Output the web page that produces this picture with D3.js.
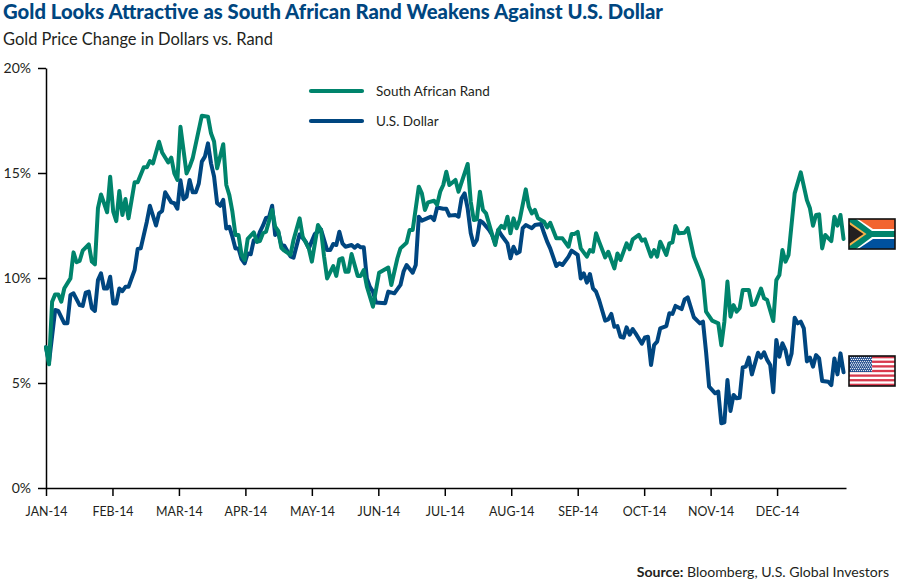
<!DOCTYPE html>
<html><head><meta charset="utf-8">
<script src="https://cdnjs.cloudflare.com/ajax/libs/d3/7.8.5/d3.min.js"></script>
<style>html,body{margin:0;padding:0;background:#fff}svg{display:block}text{font-family:Lato,"Open Sans",sans-serif}</style>
</head><body><div id="chart"></div>
<script>
const titleText = "Gold Looks Attractive as South African Rand Weakens Against U.S. Dollar";
const subtitleText = "Gold Price Change in Dollars vs. Rand";
const monthLabels = ["JAN-14","FEB-14","MAR-14","APR-14","MAY-14","JUN-14","JUL-14","AUG-14","SEP-14","OCT-14","NOV-14","DEC-14"];
const percentTicks = [0,5,10,15,20];
const seriesNames = ["South African Rand","U.S. Dollar"];
const tradingDaysPerMonth = 21.75;

const randDays = [0,1,2,3,4,5,6,8,9,10,11,12,14,15,16,17,18,20,21,22,23,24,25,26,27,29,30,32,33,34,35,37,38,40,41,42,43,44,46,47,48,51,53,54,55,56,58,59,60,61,62,63,64,65,66,68,69,70,71,72,74,75,76,77,78,80,81,83,84,86,87,89,90,91,92,94,95,96,97,98,99,100,102,103,104,105,107,109,112,113,115,116,118,119,120,122,123,124,125,127,128,129,130,131,132,134,135,138,139,140,141,142,143,144,147,148,149,150,151,152,153,154,155,157,158,159,160,161,163,164,165,167,169,171,172,173,174,175,177,178,179,180,181,183,184,186,187,188,190,191,192,194,195,196,198,199,200,201,203,204,205,206,207,209,210,212,214,215,216,218,220,221,222,223,224,225,226,227,228,230,231,232,234,235,236,238,239,240,241,242,243,245,247,249,250,251,252,253,254,255,256,257,258,259,260,261];
const randValues = [6.7,5.89,8.87,9.22,9.22,8.87,9.51,9.98,11.22,10.75,10.81,11.3,11.6,10.78,10.65,13.32,13.98,13.13,14.82,13.16,12.71,14.14,13.0,13.76,12.84,14.56,14.56,15.27,15.27,15.57,15.46,16.49,15.98,15.5,15.73,14.98,14.67,17.2,14.98,15.3,15.7,17.73,17.68,16.89,16.5,15.22,16.37,14.43,13.95,13.16,12.05,12.05,11.1,10.86,11.86,12.17,11.73,11.76,12.13,12.2,13.24,12.44,12.24,11.44,11.3,11.1,11.81,12.84,11.97,11.41,10.78,12.52,12.29,11.02,9.98,10.57,10.1,10.89,10.94,10.3,10.3,11.14,10.1,10.1,10.38,9.6,8.63,10.25,10.5,9.67,10.94,11.41,11.68,12.29,12.29,14.35,14.03,13.24,13.6,13.68,13.48,14.11,14.43,15.06,14.43,14.67,14.11,15.43,13.63,12.76,12.8,14.11,13.24,13.08,11.57,12.29,12.48,12.37,12.92,12.13,12.84,12.37,12.76,14.22,13.4,13.08,13.24,12.84,12.68,12.41,12.63,11.89,11.89,11.49,12.1,12.1,12.2,11.41,11.02,11.33,11.25,12.13,11.73,10.98,11.25,10.46,11.17,10.86,11.65,11.37,11.84,12.05,11.78,11.84,11.02,11.33,11.02,11.73,11.1,11.65,11.7,12.48,12.13,12.16,12.37,11.02,10.3,9.9,8.4,7.97,7.84,6.8,7.92,9.83,8.16,8.71,8.4,8.56,9.43,9.43,8.71,8.75,9.5,9.03,8.95,7.95,9.9,10.14,11.33,10.78,11.1,14.03,15.03,13.71,13.32,12.49,13.0,13.03,11.41,12.05,11.9,11.76,12.92,12.49,13.0,11.86];

const usdDays = [0,1,3,4,6,7,8,9,11,12,13,14,15,16,17,18,19,20,21,22,23,24,25,26,27,29,30,31,33,34,36,37,38,39,41,42,43,44,45,46,47,48,49,50,51,52,53,54,55,56,57,58,59,60,61,62,63,64,65,66,67,68,69,70,71,72,73,74,75,76,77,78,80,81,83,85,86,88,90,92,93,94,95,96,97,98,100,101,102,103,104,105,106,107,108,111,112,114,116,117,118,120,121,122,123,126,127,128,130,131,132,134,135,136,137,138,139,140,141,142,143,145,146,147,148,149,151,152,153,154,155,156,157,159,160,162,163,164,165,167,168,169,171,172,174,175,176,177,178,179,180,181,183,184,185,186,187,188,189,190,191,192,193,195,196,197,198,199,200,201,203,204,205,206,208,209,210,212,214,215,216,217,219,220,221,222,223,224,225,226,227,228,229,230,231,233,234,235,236,237,238,239,240,241,242,243,244,245,246,247,248,249,250,251,252,253,254,256,257,258,259,260,261];
const usdValues = [6.7,6.0,8.48,8.43,7.84,7.84,9.19,9.27,8.71,8.67,9.3,9.35,8.56,8.43,9.9,10.22,9.5,9.5,10.06,8.79,8.79,9.5,9.37,9.58,9.58,10.38,11.38,11.41,12.68,13.44,12.5,13.08,13.19,14.08,13.6,13.56,13.3,14.65,13.75,13.87,14.67,14.08,14.08,14.5,15.54,15.78,16.41,15.46,14.83,13.56,13.44,13.72,12.36,12.44,11.97,11.41,11.41,10.9,10.7,11.17,11.13,11.8,11.73,12.2,12.49,12.86,12.9,13.44,12.05,12.2,11.57,11.54,11.03,10.97,12.08,11.73,11.41,12.1,12.31,11.33,11.33,11.62,11.57,12.2,11.65,11.49,11.57,11.44,11.57,11.46,11.46,9.98,9.58,9.35,8.83,8.8,9.35,9.27,9.67,10.3,10.62,10.25,10.62,12.92,12.73,12.92,12.76,13.36,13.3,13.3,12.97,13.0,12.92,13.8,14.03,13.3,12.13,11.57,11.81,12.73,12.63,12.29,12.05,11.65,12.29,12.05,11.65,10.94,11.49,11.17,11.25,12.37,12.52,12.37,12.52,12.57,12.13,11.73,11.41,10.57,10.7,10.62,11.02,11.3,11.1,9.98,10.22,9.78,10.19,9.51,9.35,8.95,7.97,8.03,8.29,7.68,7.71,7.2,7.16,7.65,7.3,7.57,7.35,6.87,7.17,7.2,5.86,6.81,6.97,7.6,7.71,8.32,8.29,8.67,8.52,8.98,9.08,8.13,7.84,7.92,6.49,4.83,4.51,4.59,3.08,3.13,5.14,3.67,4.43,4.27,4.3,5.74,5.78,6.21,5.41,6.44,6.21,6.46,6.1,5.86,4.56,7.05,6.25,6.89,6.57,5.89,6.41,8.11,7.84,7.92,7.6,6.03,6.21,5.78,6.33,6.17,5.1,5.06,4.9,6.17,5.41,6.41,5.51];

const randColor = "#00846c", usdColor = "#004680", ink = "#231f20";
const width = 900, height = 585;
const svg = d3.select("#chart").append("svg").attr("width", width).attr("height", height);

const x = d3.scaleLinear().domain([0, 261.8]).range([46, 846]);
const y = d3.scaleLinear().domain([0, 20]).range([488, 68]);

svg.append("text").attr("x", 3).attr("y", 19).attr("fill", usdColor)
  .attr("font-size", 20.5).attr("font-weight", 900).attr("textLength", 660).attr("lengthAdjust", "spacingAndGlyphs").text(titleText);
svg.append("text").attr("x", 3).attr("y", 45).attr("fill", ink)
  .attr("font-size", 17).attr("textLength", 270).attr("lengthAdjust", "spacingAndGlyphs").text(subtitleText);

const yAxis = svg.append("g").attr("transform", "translate(46,0)")
  .call(d3.axisLeft(y).tickValues(percentTicks).tickFormat(d => d + "%").tickSize(8).tickSizeOuter(0));
const xAxis = svg.append("g").attr("transform", "translate(0,488)")
  .call(d3.axisBottom(x).tickValues(monthLabels.map((_, i) => i * tradingDaysPerMonth)).tickFormat((d, i) => monthLabels[i]).tickSize(8).tickSizeOuter(0));
[yAxis, xAxis].forEach(g => {
  g.selectAll("path,line").attr("stroke", "#000").attr("stroke-width", 1.5);
  g.selectAll("text").attr("fill", ink).style("font-family", "Lato,sans-serif");
});
yAxis.selectAll("text").attr("x", -15).attr("font-size", 14);
xAxis.selectAll("text").attr("y", 19.5).attr("font-size", 12.4);

const line = d3.line().x(d => x(d[0])).y(d => y(d[1]));
const pairs = (a, b) => a.map((d, i) => [d, b[i]]);
const drawLine = (days, values, color) => svg.append("path").datum(pairs(days, values))
  .attr("fill", "none").attr("stroke", color).attr("stroke-width", 4).attr("stroke-linejoin", "round").attr("stroke-linecap", "round").attr("d", line);
drawLine(usdDays, usdValues, usdColor);
drawLine(randDays, randValues, randColor);

[[91, randColor], [121, usdColor]].forEach(([ly, c], i) => {
  svg.append("line").attr("x1", 311).attr("x2", 362).attr("y1", ly).attr("y2", ly)
    .attr("stroke", c).attr("stroke-width", 4.2).attr("stroke-linecap", "round");
  svg.append("text").attr("x", 376).attr("y", ly + 4.5).attr("fill", ink).attr("font-size", 13.5).text(seriesNames[i]);
});

const source = svg.append("text").attr("x", 889).attr("y", 577).attr("text-anchor", "end").attr("fill", ink).attr("font-size", 14.1);
source.append("tspan").attr("font-weight", 700).text("Source:");
source.append("tspan").text(" Bloomberg, U.S. Global Investors");

// Flags
const sa = svg.append("g").attr("transform", "translate(849,219)");
sa.append("rect").attr("width", 46).attr("height", 30).attr("fill", "#fff");
sa.append("path").attr("d", "M0,0H46V10H24L9,0Z").attr("fill", "#f26430");
sa.append("path").attr("d", "M0,30H46V20H24L9,30Z").attr("fill", "#00519e");
sa.append("path").attr("d", "M0,0H7L23,12H46V18H23L7,30H0Z").attr("fill", "#00846c");
sa.append("path").attr("d", "M0,2.5L17.5,15L0,27.5Z").attr("fill", "#f7b24a");
sa.append("path").attr("d", "M0,5L14.5,15L0,25Z").attr("fill", "#231f20");
sa.append("rect").attr("width", 46).attr("height", 30).attr("fill", "none").attr("stroke", "#111").attr("stroke-width", 1.6);

const us = svg.append("g").attr("transform", "translate(849,356)");
us.append("rect").attr("width", 46).attr("height", 30).attr("fill", "#fff");
d3.range(7).forEach(i => us.append("rect").attr("y", i * 30 / 6.5).attr("width", 46).attr("height", 30 / 13).attr("fill", "#d8394d"));
us.append("rect").attr("width", 23).attr("height", 16).attr("fill", "#1f4a8c");
d3.range(8).forEach(r => d3.range(11).forEach(c => us.append("circle").attr("cx", 1.6 + c * 2 + (r % 2)).attr("cy", 1.6 + r * 1.85).attr("r", 0.65).attr("fill", "#fff")));
us.append("rect").attr("width", 46).attr("height", 30).attr("fill", "none").attr("stroke", "#111").attr("stroke-width", 1.6);
</script></body></html>
